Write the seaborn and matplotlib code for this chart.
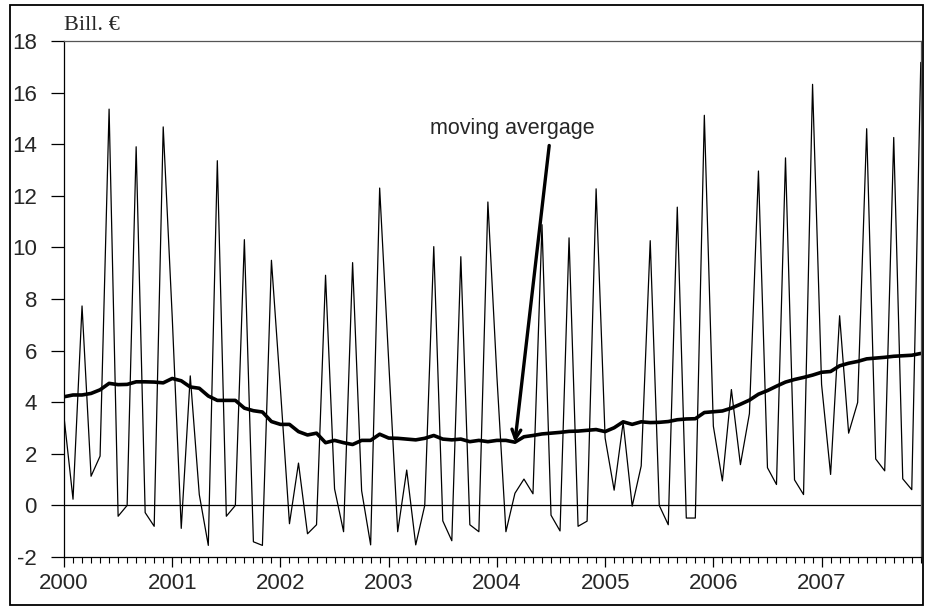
import numpy as np
import pandas as pd
import matplotlib
matplotlib.use("Agg")
import matplotlib.pyplot as plt
import seaborn as sns
from matplotlib.patches import Rectangle
from matplotlib.ticker import MultipleLocator

# ── Data (monthly, Jan 2000 - Dec 2007) ───────────────────────────────────────

years = [2000, 2001, 2002, 2003, 2004, 2005, 2006, 2007]

monthly = [
    3.43, 0.24, 7.73, 1.13, 1.91, 15.36, -0.42, 0.00, 13.90, -0.28, -0.81, 14.67,
    7.30, -0.89, 5.02, 0.42, -1.55, 13.36, -0.42, 0.00, 10.30, -1.41, -1.55, 9.50,
    4.50, -0.71, 1.64, -1.10, -0.75, 8.92, 0.64, -1.02, 9.41, 0.57, -1.53, 12.30,
    5.60, -1.02, 1.37, -1.53, 0.00, 10.03, -0.60, -1.37, 9.64, -0.75, -1.02, 11.76,
    5.00, -1.02, 0.47, 1.02, 0.45, 10.88, -0.38, -0.99, 10.37, -0.81, -0.61, 12.27,
    2.61, 0.59, 3.22, -0.03, 1.53, 10.26, 0.00, -0.75, 11.56, -0.49, -0.49, 15.12,
    3.07, 0.95, 4.49, 1.58, 3.56, 12.96, 1.46, 0.81, 13.47, 0.99, 0.42, 16.32,
    4.69, 1.20, 7.35, 2.80, 3.99, 14.60, 1.80, 1.34, 14.26, 1.03, 0.61, 17.17,
]

moving_avg = [
    4.21, 4.28, 4.28, 4.34, 4.48, 4.73, 4.68, 4.69, 4.79, 4.79, 4.78, 4.75,
    4.92, 4.83, 4.59, 4.54, 4.24, 4.07, 4.07, 4.07, 3.77, 3.67, 3.62, 3.25,
    3.14, 3.14, 2.86, 2.73, 2.80, 2.43, 2.52, 2.43, 2.36, 2.52, 2.52, 2.76,
    2.61, 2.60, 2.57, 2.54, 2.60, 2.71, 2.57, 2.54, 2.57, 2.47, 2.52, 2.47,
    2.52, 2.52, 2.45, 2.66, 2.71, 2.77, 2.80, 2.83, 2.87, 2.88, 2.91, 2.94,
    2.86, 3.01, 3.24, 3.14, 3.24, 3.21, 3.22, 3.25, 3.32, 3.35, 3.36, 3.60,
    3.63, 3.66, 3.77, 3.92, 4.08, 4.31, 4.45, 4.62, 4.78, 4.88, 4.96, 5.05,
    5.16, 5.19, 5.41, 5.51, 5.58, 5.68, 5.71, 5.74, 5.78, 5.80, 5.82, 5.89,
]

df = pd.DataFrame({
    "t": 2000 + np.arange(len(monthly)) / 12,
    "value": monthly,
    "ma": moving_avg,
})

# ── Figure ─────────────────────────────────────────────────────────────────────

sns.set_style("white")
plt.rcParams["font.family"] = ["Liberation Sans", "DejaVu Sans"]
plt.rcParams["axes.unicode_minus"] = False

fig = plt.figure(figsize=(9.27, 6.06), dpi=100)
ax = fig.add_axes([64 / 927, 1 - 557 / 606, (921 - 64) / 927, (557 - 41) / 606])

sns.lineplot(data=df, x="t", y="value", color="black", linewidth=0.9, ax=ax)
sns.lineplot(data=df, x="t", y="ma", color="black", linewidth=2.6, ax=ax)
ax.axhline(0, color="black", linewidth=0.9)

ax.set_xlim(2000, df["t"].iloc[-1] + 0.002)
ax.set_ylim(-2, 18)
ax.set_xlabel("")
ax.set_ylabel("")

ax.set_xticks(years)
ax.set_xticklabels([str(y) for y in years])
ax.xaxis.set_minor_locator(MultipleLocator(1 / 12))
ax.yaxis.set_major_locator(MultipleLocator(2))

ax.tick_params(axis="x", which="major", direction="out", length=7.5, width=0.9,
               color="black", labelsize=16, pad=4, bottom=True)
ax.tick_params(axis="x", which="minor", direction="out", length=4, width=0.8,
               color="black", bottom=True)
ax.tick_params(axis="y", which="major", direction="out", length=9.5, width=0.9,
               color="black", labelsize=16, pad=10, left=True)

for side in ["left", "bottom"]:
    ax.spines[side].set_color("black")
    ax.spines[side].set_linewidth(0.9)
for side in ["top", "right"]:
    ax.spines[side].set_color("#555555")
    ax.spines[side].set_linewidth(0.9)

# units label
ax.text(0.0, 1.022, "Bill. €", transform=ax.transAxes, ha="left", va="baseline",
        fontsize=16, family=["Liberation Serif", "DejaVu Serif"])

# annotation
ax.text(2004.14, 14.6, "moving avergage", ha="center", va="center", fontsize=15.5)
ax.annotate("", xy=(2000 + 50 / 12, moving_avg[50]), xytext=(2000 + 53.8 / 12, 13.95),
            arrowprops=dict(arrowstyle="->", color="black", lw=2.4,
                            mutation_scale=16, shrinkA=0, shrinkB=0))

# outer frame
fig.patches.append(Rectangle((10 / 927, 1 / 606), (923 - 10) / 927, 600 / 606,
                             transform=fig.transFigure, fill=False,
                             edgecolor="black", linewidth=1.3))

fig.savefig("out.png", dpi=100)
plt.close(fig)
